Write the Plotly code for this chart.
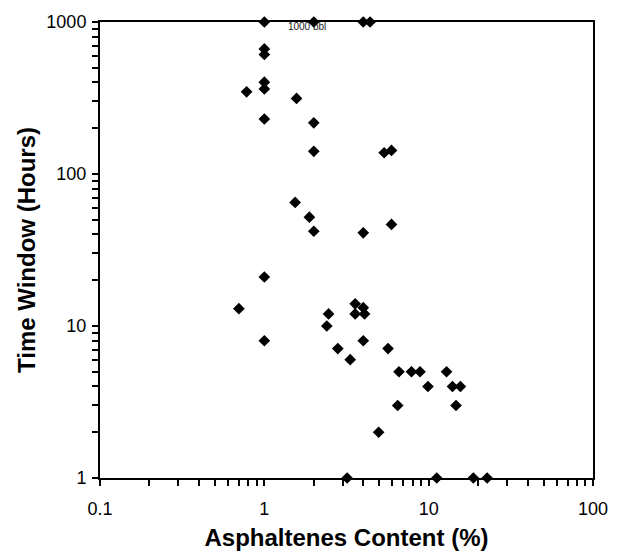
import plotly.graph_objects as go

# Asphaltenes content (%) and time window (hours)
asphaltenes = [1.0, 2.0, 4.0, 4.4, 1.0, 1.0, 1.0, 1.0, 0.78, 1.57,
               1.0, 2.0, 2.0, 5.36, 5.94, 1.54, 1.88, 2.0, 4.0, 5.94,
               1.0, 0.7, 2.46, 2.4, 1.0, 2.8, 3.57, 4.0, 3.57, 4.07,
               4.0, 5.66, 3.33, 6.6, 7.86, 8.86, 12.85, 9.9, 13.96, 15.6,
               6.48, 14.67, 4.96, 3.19, 11.2, 18.7, 22.7]
time_window = [1000, 1000, 1000, 1000, 665, 611, 402, 363, 347, 314,
               230, 217, 141, 138, 143, 65, 52, 42, 41, 46.6,
               21, 13, 12, 10, 8, 7.1, 14, 13.2, 12, 12,
               8, 7.1, 6, 5, 5, 5, 5, 4, 4, 4,
               3, 3, 2, 1, 1, 1, 1]

x_tickvals = [0.1, 1, 10, 100]
x_ticktext = ["0.1", "1", "10", "100"]
y_tickvals = [1, 10, 100, 1000]
y_ticktext = ["1", "10", "100", "1000"]

label_text = ["1000 bbl"]
label_x = [1.82]
label_y = [925]

FONT = "Liberation Sans, Arial, sans-serif"


def with_minor(major_vals, major_text):
    vals, text = [], []
    for i, v in enumerate(major_vals):
        vals.append(v)
        text.append(major_text[i])
        if i < len(major_vals) - 1:
            for m in range(2, 10):
                vals.append(m * v)
                text.append("")
    return vals, text


xv, xt = with_minor(x_tickvals, x_ticktext)
yv, yt = with_minor(y_tickvals, y_ticktext)

fig = go.Figure()
fig.add_trace(go.Scatter(
    x=label_x, y=label_y, mode="text", text=label_text,
    textfont=dict(family=FONT, size=10, color="#222"),
    cliponaxis=False, showlegend=False, hoverinfo="skip"))
fig.add_trace(go.Scatter(
    x=asphaltenes, y=time_window, mode="markers",
    marker=dict(symbol="diamond", size=9, color="black",
                line=dict(width=0)),
    cliponaxis=False, showlegend=False))

axis_common = dict(
    type="log", showgrid=False, zeroline=False,
    showline=True, linecolor="black", linewidth=2, mirror=True,
    ticks="outside", ticklen=6, tickwidth=1.5, tickcolor="black",
    tickfont=dict(family=FONT, size=18, color="black"),
)

fig.update_xaxes(
    **axis_common,
    range=[-1, 2],
    tickmode="array", tickvals=xv, ticktext=xt,
    ticklabelstandoff=7,
    title=dict(text="<b>Asphaltenes Content (%)</b>",
               font=dict(family=FONT, size=24, color="black"),
               standoff=12),
)
fig.update_yaxes(
    **axis_common,
    range=[0, 3],
    tickmode="array", tickvals=yv, ticktext=yt,
    ticklabelstandoff=2,
    title=dict(text="<b>Time Window (Hours)</b>",
               font=dict(family=FONT, size=24, color="black"),
               standoff=4),
)

fig.update_layout(
    width=620, height=560,
    margin=dict(l=100, r=20, t=21, b=82),
    paper_bgcolor="white", plot_bgcolor="white",
    showlegend=False,
)

fig.write_html("out.html")
